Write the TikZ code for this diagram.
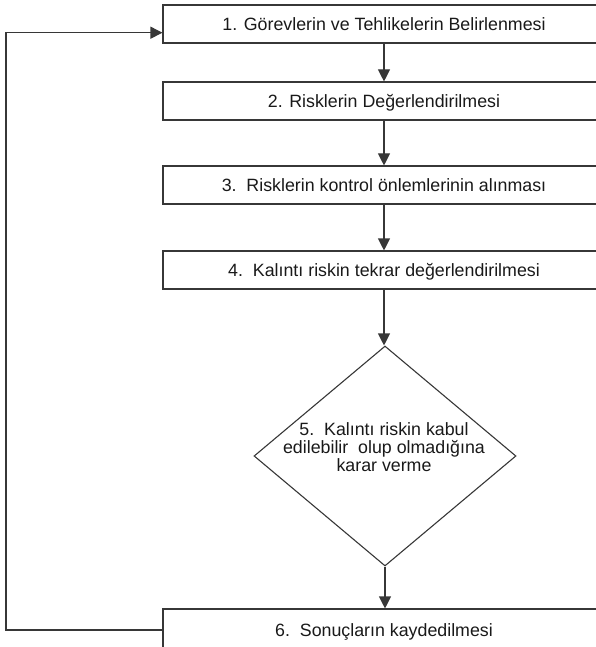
\documentclass[tikz,border=0pt]{standalone}
\usepackage{fontspec}
\setmainfont{Liberation Sans}
\usetikzlibrary{arrows.meta,shapes.geometric}
\definecolor{linec}{RGB}{55,55,55}
\definecolor{textc}{RGB}{25,25,25}
\begin{document}
\begin{tikzpicture}[x=1pt,y=-1pt,
  stepbox/.style={draw=linec,line width=1.1pt,rectangle,minimum width=442pt,minimum height=38pt,inner sep=0pt,
    font=\fontsize{17.8}{18}\selectfont,text=textc,text height=12.7pt,text depth=0pt},
  decision/.style={draw=linec,line width=1.1pt,diamond,minimum width=262pt,minimum height=220pt,inner sep=0pt},
  dtext/.style={font=\fontsize{17.8}{18}\selectfont,text=textc,align=center,inner sep=0pt},
  flow/.style={draw=linec,line width=1.1pt,-{Triangle[length=12pt,width=12pt]}},
  plain/.style={draw=linec,line width=1.1pt}]
\useasboundingbox (0,0) rectangle (596,647);
\node[stepbox] (n1) at (384,24) {1. Görevlerin ve Tehlikelerin Belirlenmesi};
\node[stepbox] (n2) at (384,101) {2. Risklerin Değerlendirilmesi};
\node[stepbox] (n3) at (384,185) {3.\ \ Risklerin kontrol önlemlerinin alınması};
\node[stepbox] (n4) at (384,270) {4.\ \ Kalıntı riskin tekrar değerlendirilmesi};
\node[decision] (n5) at (385,456) {};
\node[dtext] (n5t) at (384,447.5) {5.\ \ Kalıntı riskin kabul\\edilebilir\ \ olup olmadığına\\karar verme};
\node[stepbox,minimum height=42pt] (n6) at (384,630) {6.\ \ Sonuçların kaydedilmesi};
\coordinate (cL) at (6,0);
\draw[flow] (n1) -- (n2);
\draw[flow] (n2) -- (n3);
\draw[flow] (n3) -- (n4);
\draw[flow] (n4.south) -- (n4.south |- n5.north);
\draw[flow] (n5.south) -- (n5.south |- n6.north);
\draw[flow] (n6.west) -- (n6.west -| cL) |- ([yshift=-8.7pt]n1.west);
\end{tikzpicture}
\end{document}
